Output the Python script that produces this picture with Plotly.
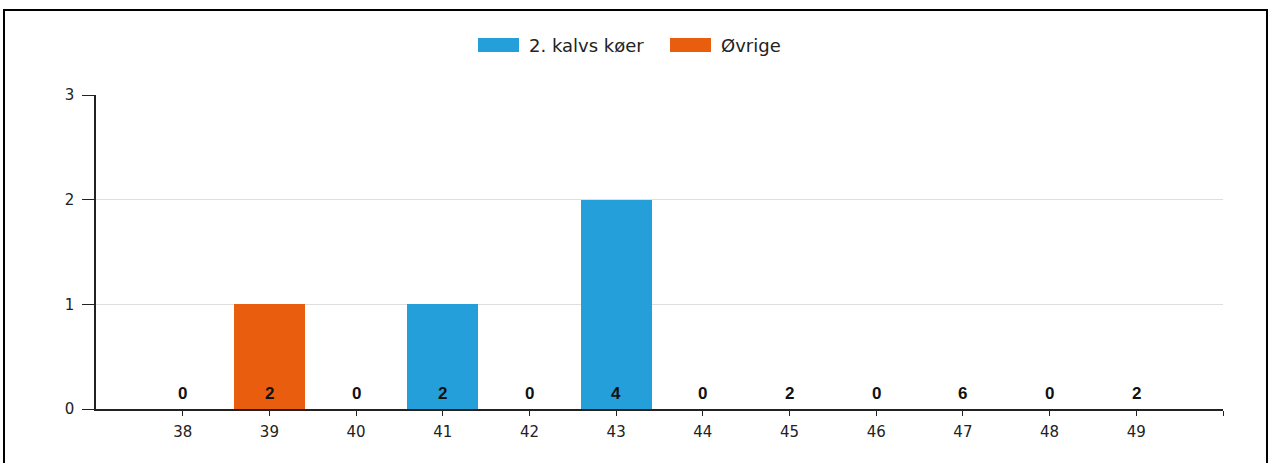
import plotly.graph_objects as go

categories = [38, 39, 40, 41, 42, 43, 44, 45, 46, 47, 48, 49]
series_names = ["2. kalvs køer", "Øvrige"]
kalvs_values = [0, 0, 0, 1, 0, 2, 0, 0, 0, 0, 0, 0]
ovrige_values = [0, 1, 0, 0, 0, 0, 0, 0, 0, 0, 0, 0]
bar_labels = [0, 2, 0, 2, 0, 4, 0, 2, 0, 6, 0, 2]
y_ticks = [0, 1, 2, 3]

BLUE = "#259fda"
ORANGE = "#e95d0f"
FONT = "DejaVu Sans, Arial, sans-serif"
LABEL_FONT = "Liberation Sans, Arial, sans-serif"

W, H = 1269, 463
L, R, T, B = 96, 46, 95, 54
PW, PH = W - L - R, H - T - B


def px_x(p):
    return (p - L) / PW


def px_y(p):
    return (H - B - p) / PH


fig = go.Figure()
fig.add_trace(go.Bar(x=categories, y=kalvs_values, name=series_names[0],
                     marker=dict(color=BLUE, line=dict(width=0)), width=0.82))
fig.add_trace(go.Bar(x=categories, y=ovrige_values, name=series_names[1],
                     marker=dict(color=ORANGE, line=dict(width=0)), width=0.82))

shapes = []
annotations = []

# value labels at the base of each category
for c, v in zip(categories, bar_labels):
    annotations.append(dict(x=c, y=0, xref="x", yref="y", text=f"<b>{v}</b>",
                            showarrow=False, yanchor="bottom", xanchor="center",
                            yshift=4, font=dict(family=LABEL_FONT, size=17, color="#111")))

# custom legend
legend_items = [(series_names[0], BLUE, 478, 527), (series_names[1], ORANGE, 670, 719)]
for name, col, rx, tx in legend_items:
    shapes.append(dict(type="rect", xref="paper", yref="paper",
                       x0=px_x(rx), x1=px_x(rx + 41), y0=px_y(52), y1=px_y(38),
                       fillcolor=col, line=dict(width=0)))
    annotations.append(dict(xref="paper", yref="paper", x=px_x(tx), y=px_y(45),
                            xanchor="left", yanchor="middle", showarrow=False,
                            text=name, font=dict(family=FONT, size=18, color="#222")))

# outer frame
shapes.append(dict(type="path", xref="paper", yref="paper",
                   path=f"M {px_x(4)} {px_y(480)} L {px_x(4)} {px_y(10)} L {px_x(1267)} {px_y(10)} L {px_x(1267)} {px_y(480)}",
                   line=dict(color="#000", width=2)))

fig.update_layout(
    width=W, height=H,
    margin=dict(l=L, r=R, t=T, b=B),
    paper_bgcolor="white", plot_bgcolor="white",
    barmode="stack", bargap=0,
    showlegend=False,
    font=dict(family=FONT, size=15, color="#222"),
    shapes=shapes, annotations=annotations,
    xaxis=dict(range=[37, 50], tickmode="array",
               tickvals=categories + [50],
               ticktext=[str(c) for c in categories] + [""],
               ticks="outside", ticklen=5, tickcolor="#222",
               showline=True, linecolor="#222", linewidth=1.5,
               showgrid=False, zeroline=False, ticklabelstandoff=3,
               tickfont=dict(family=FONT, size=15, color="#222")),
    yaxis=dict(range=[0, 3], tickmode="array", tickvals=y_ticks,
               ticks="outside", ticklen=12, tickcolor="#222",
               showline=True, linecolor="#222", linewidth=1.5,
               showgrid=True, gridcolor="#dedede", gridwidth=1,
               zeroline=False, ticklabelstandoff=5,
               tickfont=dict(family=FONT, size=15, color="#222")),
)

fig.write_html("out.html", config={"displayModeBar": False},
               post_script="document.body.style.margin='0';")
